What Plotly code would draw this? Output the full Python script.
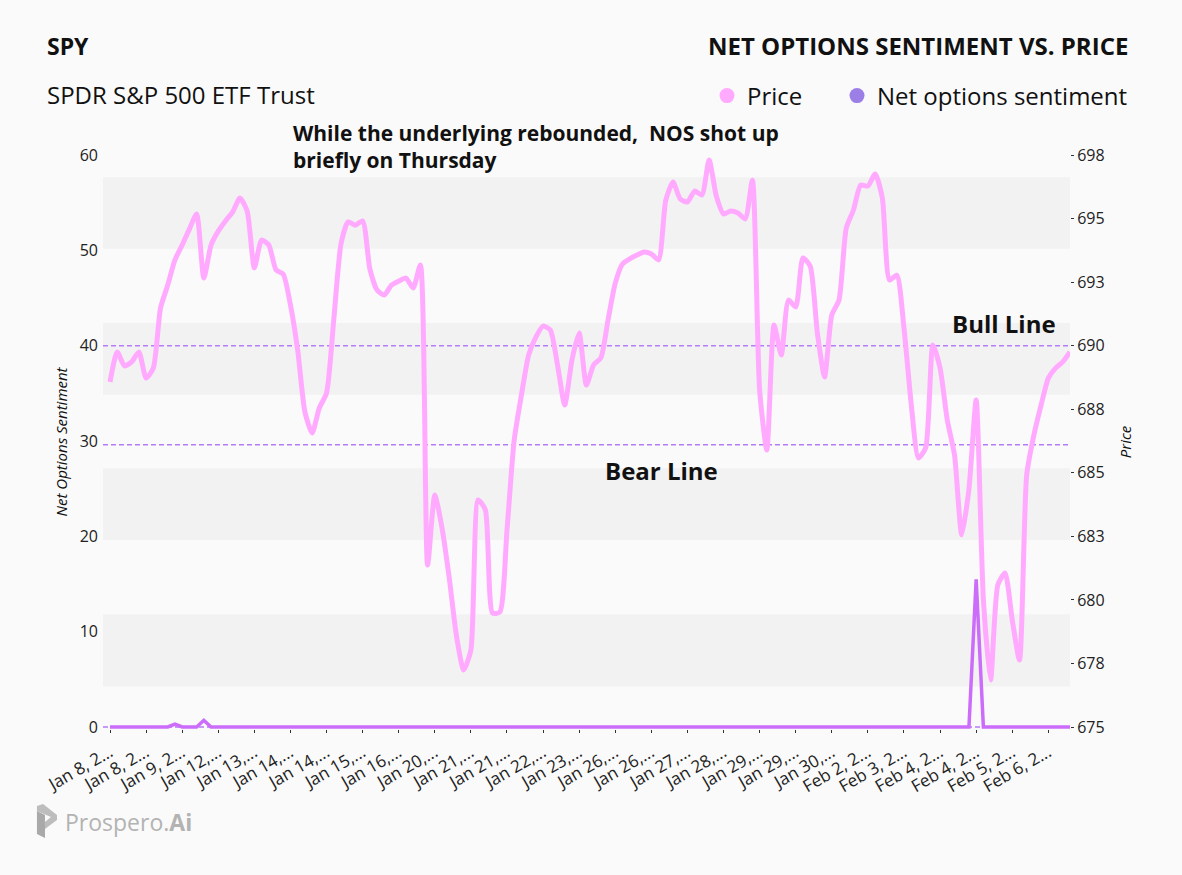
import numpy as np
import plotly.graph_objects as go

# SPY price, one reading per bar, Jan 8 - Feb 6
price = [
    688.87, 690.08, 689.52, 689.68, 690.08, 689.03, 689.43, 691.85, 692.77, 693.78,
    694.38, 695.02, 695.63, 693.05, 694.38, 694.94, 695.35, 695.71, 696.27, 695.75,
    693.46, 694.58, 694.38, 693.38, 693.21, 691.97, 690.16, 687.67, 686.82, 687.83,
    688.43, 691.37, 694.42, 695.31, 695.18, 695.35, 693.42, 692.57, 692.37, 692.77,
    692.93, 693.05, 692.65, 693.58, 681.51, 684.33, 683.00, 680.99, 678.66, 677.29,
    678.10, 684.13, 683.73, 679.58, 679.62, 682.92, 686.54, 688.35, 689.96, 690.68,
    691.12, 690.96, 689.56, 687.95, 689.76, 690.84, 688.75, 689.56, 689.84, 691.37,
    692.85, 693.62, 693.82, 693.98, 694.10, 694.02, 693.78, 696.19, 696.91, 696.23,
    696.11, 696.55, 696.39, 697.80, 696.35, 695.63, 695.75, 695.67, 695.43, 696.99,
    688.55, 686.14, 691.16, 689.96, 692.17, 691.89, 693.86, 693.54, 690.84, 689.07,
    691.57, 692.17, 695.06, 695.79, 696.79, 696.75, 697.24, 696.27, 692.97, 693.17,
    691.04, 687.99, 685.82, 686.22, 690.36, 689.43, 687.34, 685.94, 682.72, 684.57,
    688.15, 680.11, 676.89, 680.71, 681.19, 679.30, 677.69, 685.13, 686.74, 687.95,
    689.03, 689.43, 689.68, 690.08,
]

# net options sentiment on the same bars
nos = [
    0, 0, 0, 0, 0, 0, 0, 0, 0, 0.3,
    0, 0, 0, 0.7, 0, 0, 0, 0, 0, 0,
    0, 0, 0, 0, 0, 0, 0, 0, 0, 0,
    0, 0, 0, 0, 0, 0, 0, 0, 0, 0,
    0, 0, 0, 0, 0, 0, 0, 0, 0, 0,
    0, 0, 0, 0, 0, 0, 0, 0, 0, 0,
    0, 0, 0, 0, 0, 0, 0, 0, 0, 0,
    0, 0, 0, 0, 0, 0, 0, 0, 0, 0,
    0, 0, 0, 0, 0, 0, 0, 0, 0, 0,
    0, 0, 0, 0, 0, 0, 0, 0, 0, 0,
    0, 0, 0, 0, 0, 0, 0, 0, 0, 0,
    0, 0, 0, 0, 0, 0, 0, 0, 0, 0,
    15.5, 0, 0, 0, 0, 0, 0, 0, 0, 0,
    0, 0, 0, 0,
]

tick_labels = [
    "Jan 8, 2...", "Jan 8, 2...", "Jan 9, 2...", "Jan 12,...", "Jan 13,...",
    "Jan 14,...", "Jan 14,...", "Jan 15,...", "Jan 16,...", "Jan 20,...",
    "Jan 21,...", "Jan 21,...", "Jan 22,...", "Jan 23,...", "Jan 26,...",
    "Jan 26,...", "Jan 27,...", "Jan 28,...", "Jan 29,...", "Jan 29,...",
    "Jan 30,...", "Feb 2, 2...", "Feb 3, 2...", "Feb 4, 2...", "Feb 4, 2...",
    "Feb 5, 2...", "Feb 6, 2...",
]
price_tick_labels = ["675", "678", "680", "683", "685", "688", "690", "693", "695", "698"]

bull_line = 40
bear_line = 29.6

# page geometry (px)
W, H = 1182, 875
L, R, T, B = 103, 112, 155, 146
pw, ph = W - L - R, H - T - B


def px(x):
    return (x - L) / pw


def py(y):
    return (H - B - y) / ph


idx = list(range(len(price)))
step = 5
font = "Open Sans"

fig = go.Figure()
fig.add_trace(go.Scatter(x=idx, y=nos, mode="lines", name="Net options sentiment",
                         line=dict(color="#cc6cfa", width=3.5), showlegend=False))
fig.add_trace(go.Scatter(x=idx, y=price, mode="lines", name="Price", yaxis="y2",
                         line=dict(color="#ffaaff", width=5, shape="spline", smoothing=0.6),
                         showlegend=False))
# legend dots
fig.add_trace(go.Scatter(x=[None], y=[None], mode="markers", name="Price", legendwidth=85,
                         marker=dict(size=15, color="#ffaaff")))
fig.add_trace(go.Scatter(x=[None], y=[None], mode="markers", name="Net options sentiment",
                         marker=dict(size=15, color="#9b7fe6")))

# alternating background bands
shapes = []
for lo, hi in [(4.26, 11.82), (19.62, 27.14), (34.85, 42.37), (50.16, 57.67)]:
    shapes.append(dict(type="rect", xref="paper", yref="y", x0=0, x1=1, y0=lo, y1=hi,
                       fillcolor="#f2f2f2", line_width=0, layer="below"))
for lvl in [bull_line, bear_line, 0]:
    shapes.append(dict(type="line", xref="paper", yref="y", x0=0, x1=1, y0=lvl, y1=lvl,
                       layer="below", line=dict(color="#b57cf7", width=1.5, dash="5px,3px")))

# logo mark
def path(pts):
    return "M " + " L ".join(f"{px(a):.4f},{py(b):.4f}" for a, b in pts) + " Z"

shapes.append(dict(type="path", xref="paper", yref="paper", line_width=0, fillcolor="#bdbdbd",
                   path=path([(37, 806), (43, 804), (57, 815), (57, 820), (45, 829),
                              (45, 822), (51, 817), (37, 811)])))
shapes.append(dict(type="path", xref="paper", yref="paper", line_width=0, fillcolor="#a9a9a9",
                   path=path([(37, 811), (45, 815), (45, 838), (37, 834)])))

ann = [
    dict(text="<b>SPY</b>", x=px(45), y=py(46), font=dict(size=23, color="#111")),
    dict(text="SPDR S&P 500 ETF Trust", x=px(45), y=py(95), font=dict(size=24, color="#111")),
    dict(text="<b>NET OPTIONS SENTIMENT VS. PRICE</b>", x=px(1130), y=py(46), xanchor="right",
         font=dict(size=24, color="#111")),
    dict(text="<b>While the underlying rebounded,  NOS shot up<br>briefly on Thursday</b>",
         x=px(291), y=py(147), align="left", font=dict(size=21, color="#111")),
    dict(text="<b>Bull Line</b>", x=px(1004), y=py(323), xanchor="center",
         font=dict(size=24, color="#111")),
    dict(text="<b>Bear Line</b>", x=px(661), y=py(471), xanchor="center",
         font=dict(size=24, color="#111")),
    dict(text="Prospero.<b>Ai</b>", x=px(63), y=py(822), font=dict(size=23, color="#b3b3b3")),
]
for a in ann:
    a.setdefault("xanchor", "left")
    a.update(xref="paper", yref="paper", yanchor="middle", showarrow=False)

fig.update_layout(
    width=W, height=H,
    margin=dict(l=L, r=R, t=T, b=B),
    paper_bgcolor="#fafafa", plot_bgcolor="#fafafa",
    font=dict(family=font, color="#333"),
    showlegend=True,
    legend=dict(orientation="h", x=px(1133), xanchor="right", y=py(96), yanchor="middle",
                font=dict(size=24, color="#111"), bgcolor="rgba(0,0,0,0)"),
    xaxis=dict(range=[-0.97, len(price) - 1], tickvals=idx[::step][:len(tick_labels)],
               ticktext=tick_labels, tickangle=-30, tickfont=dict(size=17, color="#222"),
               showgrid=False, zeroline=False, ticks="outside", ticklen=3, tickcolor="#333",
               ticklabelstandoff=3),
    yaxis=dict(range=[-0.21, 60], dtick=10, tick0=0, showgrid=False, zeroline=False,
               tickfont=dict(size=16, color="#222"), ticklabelstandoff=4,
               title=dict(text="Net Options Sentiment", standoff=8,
                          font=dict(size=15, style="italic", color="#111"))),
    yaxis2=dict(overlaying="y", side="right", range=[674.92, 698],
                tickvals=np.linspace(675, 698, len(price_tick_labels)),
                ticktext=price_tick_labels, showgrid=False, zeroline=False,
                ticks="outside", ticklen=3, tickcolor="#333",
                tickfont=dict(size=16, color="#222"),
                title=dict(text="Price", standoff=16,
                           font=dict(size=15, style="italic", color="#111"))),
    shapes=shapes,
    annotations=ann,
)

fig.write_html("out.html", config={"displayModeBar": False},
               post_script="document.body.style.margin='0';"
                           "document.body.style.background='#fafafa';")
